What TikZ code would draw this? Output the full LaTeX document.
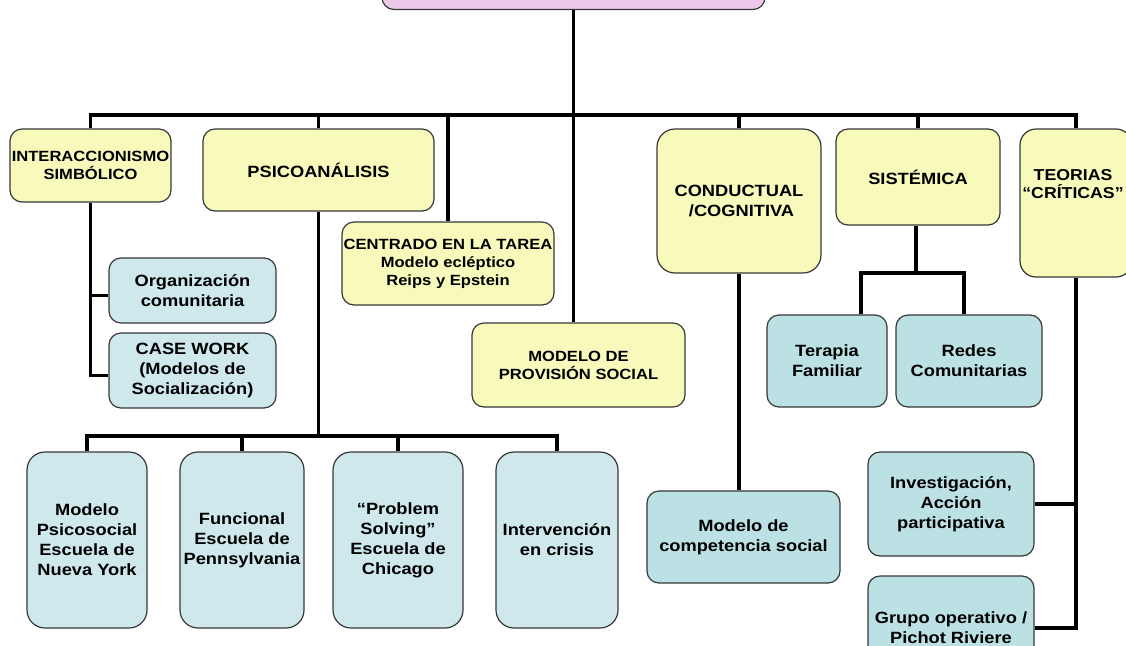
\documentclass[tikz,border=0pt]{standalone}
\usepackage{fontspec}
\setmainfont{Liberation Sans}[FakeStretch=1.12]
\newcommand\myfA{\fontsize{16.3}{20}\selectfont\bfseries}
\newcommand\myfB{\fontsize{14.8}{18}\selectfont\bfseries}
\newcommand\myfC{\fontsize{15.8}{18.5}\selectfont\bfseries}
\definecolor{yel}{RGB}{248,250,187}
\definecolor{blu}{RGB}{206,232,236}
\definecolor{bluB}{RGB}{188,225,229}
\definecolor{pnk}{RGB}{238,200,234}
\definecolor{edge}{RGB}{55,55,55}
\tikzset{
  box/.style={draw=edge, line width=1.2pt, rounded corners=12pt, align=center,
    inner xsep=0pt, inner ysep=2pt, font=\myfA},
  ybox/.style={box, fill=yel},
  bbox/.style={box, fill=blu},
  cbox/.style={box, fill=bluB},
  conn/.style={line width=3.8pt, black},
}
\begin{document}
\begin{tikzpicture}[x=1pt,y=-1pt]
\useasboundingbox (0,0) rectangle (1126,645);
\clip (0,0) rectangle (1126,645);
\fill[white] (0,0) rectangle (1126,645);
% nodes
\node[box, fill=pnk, minimum width=383pt, minimum height=69.5pt] (top) at (573.5,-25.25) {};
\node[ybox, font=\myfB, minimum width=161pt, minimum height=73pt] (inter) at (90.5,165.5) {INTERACCIONISMO\\SIMBÓLICO};
\node[ybox, minimum width=231pt, minimum height=82pt] (psi) at (318.5,170) {PSICOANÁLISIS};
\node[ybox, font=\myfB, minimum width=212pt, minimum height=83pt] (cen) at (448,263.5) {CENTRADO EN LA TAREA\\Modelo ecléptico\\Reips y Epstein};
\node[ybox, font=\myfB, minimum width=213pt, minimum height=84pt] (prov) at (578.5,365) {MODELO DE\\PROVISIÓN SOCIAL};
\node[ybox, rounded corners=18pt, minimum width=164pt, minimum height=144pt] (cond) at (739,201) {CONDUCTUAL\\\ /COGNITIVA};
\node[ybox, minimum width=164pt, minimum height=96pt] (sis) at (918,177) {SISTÉMICA};
\node[ybox, rounded corners=16pt, minimum width=112pt, minimum height=148pt,
  label={[font=\myfC, align=center, yshift=19pt, xshift=-3pt]center:TEORIAS\\“CRÍTICAS”}] (teo) at (1076,203) {};
\node[bbox, minimum width=167pt, minimum height=65pt] (org) at (192.5,290.5) {Organización\\comunitaria};
\node[bbox, minimum width=167pt, minimum height=75pt] (case) at (192.5,370.5) {CASE WORK\\(Modelos de\\Socialización)};
\node[bbox, rounded corners=18pt, minimum width=120pt, minimum height=176pt] (b1) at (87,540) {Modelo\\Psicosocial\\Escuela de\\Nueva York};
\node[bbox, rounded corners=18pt, minimum width=124pt, minimum height=176pt] (b2) at (242,540) {Funcional\\Escuela de\\Pennsylvania};
\node[bbox, rounded corners=18pt, minimum width=130pt, minimum height=176pt] (b3) at (398,540) {“Problem\\Solving”\\Escuela de\\Chicago};
\node[bbox, rounded corners=18pt, minimum width=122pt, minimum height=176pt] (b4) at (557,540) {Intervención\\en crisis};
\node[cbox, minimum width=120pt, minimum height=92pt] (ter) at (827,361) {Terapia\\Familiar};
\node[cbox, minimum width=146pt, minimum height=92pt] (red) at (969,361) {Redes\\Comunitarias};
\node[cbox, minimum width=193pt, minimum height=92pt] (comp) at (743.5,537) {Modelo de\\competencia social};
\node[cbox, minimum width=166pt, minimum height=104pt] (inv) at (951,504) {Investigación,\\Acción\\participativa};
\node[cbox, minimum width=166pt, minimum height=104pt] (gru) at (951,628) {Grupo operativo /\\Pichot Riviere};
% bus coordinates
\coordinate (bus) at (0,115);
\coordinate (pbus) at (0,436);
\coordinate (sbus) at (0,273);
% connectors
\draw[conn] (top.south) -- (top.south |- prov.north);
\draw[conn] (inter.north) -- (inter.north |- bus) -- (teo.north |- bus) -- (teo.north);
\draw[conn] (psi.north) -- (psi.north |- bus);
\draw[conn] (cen.north) -- (cen.north |- bus);
\draw[conn] (cond.north) -- (cond.north |- bus);
\draw[conn] (sis.north) -- (sis.north |- bus);
\draw[conn] (inter.south) |- ([yshift=-5pt]case.west);
\draw[conn] ([yshift=-5pt]org.west) -- ([yshift=-5pt]org.west -| inter.south);
\draw[conn] (psi.south) -- (psi.south |- pbus);
\draw[conn] (b1.north) -- (b1.north |- pbus) -- (b4.north |- pbus) -- (b4.north);
\draw[conn] (b2.north) -- (b2.north |- pbus);
\draw[conn] (b3.north) -- (b3.north |- pbus);
\draw[conn] (cond.south) -- (cond.south |- comp.north);
\draw[conn] ([xshift=-2pt]sis.south) -- ([xshift=-2pt]sis.south |- sbus);
\draw[conn] ([xshift=34pt]ter.north) -- ([xshift=34pt]ter.north |- sbus) -- ([xshift=-5pt]red.north |- sbus) -- ([xshift=-5pt]red.north);
\draw[conn] (teo.south) -- (teo.south |- gru.east) -- (gru.east);
\draw[conn] (inv.east) -- (inv.east -| teo.south);
\end{tikzpicture}
\end{document}
